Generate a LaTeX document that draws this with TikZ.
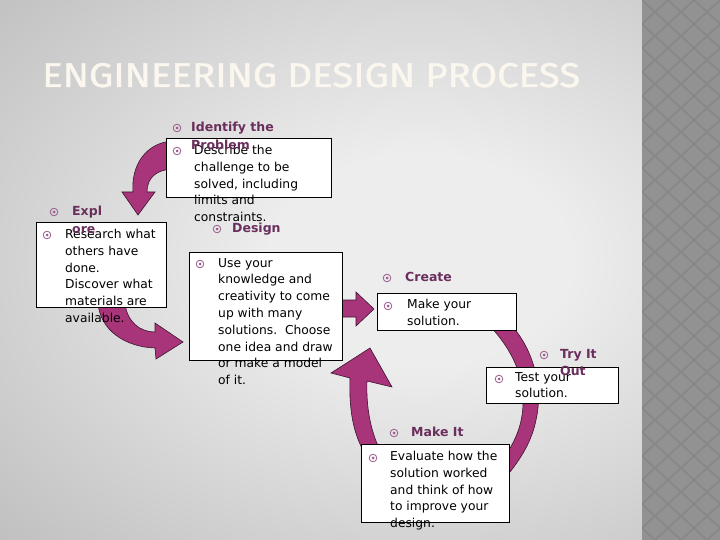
\documentclass[tikz,border=0pt]{standalone}
\usepackage{graphicx}
\usepackage{fontspec}
\newfontfamily\bodyfont{DejaVu Sans}
\newfontfamily\headfont[FakeBold=1.2]{Fira Sans}
\definecolor{arrowc}{HTML}{A8357A}
\definecolor{arrowline}{HTML}{3A1530}
\definecolor{titlec}{HTML}{6A2E5C}
\definecolor{bulc}{HTML}{9A5A8E}
\definecolor{headc}{HTML}{FBF6EE}
\definecolor{bgin}{HTML}{EDEDED}
\definecolor{bgout}{HTML}{9A9A9A}
\definecolor{stripc}{HTML}{888888}
\definecolor{diamc}{HTML}{929292}
\pgfdeclareradialshading{bgshade}{\pgfpoint{0bp}{0bp}}{color(0bp)=(bgin); color(8bp)=(bgin); color(50bp)=(bgout)}
\begin{document}
\begin{tikzpicture}[x=1pt,y=-1pt,
  arrowshape/.style={fill=arrowc, draw=arrowline, line width=0.6pt, line join=miter},
  box/.style={fill=white, draw=black, line width=0.8pt},
  bul/.style={circle, draw=bulc, line width=0.8pt, minimum size=7.6pt, inner sep=0pt,
    path picture={\fill[bulc] (path picture bounding box.center) circle (1.5pt);}},
  txt/.style={anchor=north west, inner sep=0pt, align=left, text=black,
    font=\bodyfont\fontsize{12.3}{16.8}\selectfont},
  ttl/.style={anchor=north west, inner sep=0pt, align=left, text=titlec,
    font=\bodyfont\bfseries\fontsize{12.5}{17.5}\selectfont}]
\useasboundingbox (0,0) rectangle (720,540);
% background
\begin{scope}
  \clip (0,0) rectangle (642,540);
  \shade[shading=bgshade] (-50,-70) rectangle (890,590);
\end{scope}
\begin{scope}
  \clip (642,0) rectangle (720,540);
  \fill[stripc] (642,0) rectangle (720,540);
  \foreach \i in {-1,...,3} {
    \foreach \j in {0,...,46} {
      \pgfmathsetmacro\xx{655+26*\i+13*mod(\j,2)}
      \pgfmathsetmacro\yy{12*\j}
      \fill[diamc] (\xx-11.5,\yy) -- (\xx,\yy-10.5) -- (\xx+11.5,\yy) -- (\xx,\yy+10.5) -- cycle;
    }
  }
\end{scope}
% main title
\node (title) [anchor=base west, inner sep=0pt, text=headc] at (42,87)
  {\resizebox{538pt}{24pt}{\headfont ENGINEERING DESIGN PROCESS}};
% arrows
\path[arrowshape] (172,141) .. controls (146,143) and (131,165) .. (133,192)
  -- (122,192) -- (138,215) -- (155,192) -- (147,192)
  .. controls (147,178) and (156,170) .. (172,169) -- cycle;
\path[arrowshape] (98,303) .. controls (100,330) and (125,347) .. (155,348)
  -- (156,359) -- (183,342) -- (155,323) -- (155,332)
  .. controls (140,332) and (127,322) .. (125,303) -- cycle;
\path[arrowshape] (338,300) -- (356,300) -- (356,292) -- (374,309) -- (356,326)
  -- (356,317) -- (338,317) -- cycle;
\path[arrowshape] (512,326) .. controls (535,352) and (543,390) .. (536,420)
  .. controls (532,440) and (522,458) .. (505,478)
  -- (495,470) .. controls (512,448) and (522,430) .. (523,405)
  .. controls (524,375) and (512,350) .. (490,326) -- cycle;
\path[arrowshape] (363,450) .. controls (352,430) and (349,405) .. (350,378)
  -- (331,373) -- (370,348) -- (392,387) -- (367,381)
  .. controls (366,405) and (370,430) .. (380,450) -- cycle;
% boxes
\path[box] (166,138) rectangle (331,197);
\path[box] (36,222) rectangle (166,307);
\path[box] (189,252) rectangle (342,360);
\path[box] (377,293) rectangle (516,330);
\path[box] (486,367) rectangle (618,403);
\path[box] (361,444) rectangle (509,522);
% body bullets and texts
\node[bul] (bIdB) at (177,151) {};
\node[txt] (tIdB) at (194,145) {Describe the\\challenge to be\\solved, including\\limits and\\constraints.};
\node[bul] (bExB) at (47,235) {};
\node[txt] (tExB) at (65,229) {Research what\\others have\\done.\\Discover what\\materials are\\available.};
\node[bul] (bDeB) at (200,264) {};
\node[txt] (tDeB) at (218,258) {Use your\\knowledge and\\creativity to come\\up with many\\solutions.\ \ Choose\\one idea and draw\\or make a model\\of it.};
\node[bul] (bCrB) at (388,306) {};
\node[txt] (tCrB) at (407,299) {Make your\\solution.};
\node[bul] (bTrB) at (499,379) {};
\node[txt] (tTrB) at (515,372) {Test your\\solution.};
\node[bul] (bMkB) at (373,458) {};
\node[txt] (tMkB) at (390,451) {Evaluate how the\\solution worked\\and think of how\\to improve your\\design.};
% step titles
\node[bul] (bId) at (177,128) {};
\node[ttl] (tId) at (191,122) {Identify the\\Problem};
\node[bul] (bEx) at (54,212) {};
\node[ttl] (tEx) at (72,206) {Expl\\ore};
\node[bul] (bDe) at (217,229) {};
\node[ttl] (tDe) at (232,223) {Design};
\node[bul] (bCr) at (387,278) {};
\node[ttl] (tCr) at (405,272) {Create};
\node[bul] (bTr) at (544,355) {};
\node[ttl] (tTr) at (560,349) {Try It\\Out};
\node[bul] (bMk) at (394,433) {};
\node[ttl] (tMk) at (411,427) {Make It};
\end{tikzpicture}
\end{document}
